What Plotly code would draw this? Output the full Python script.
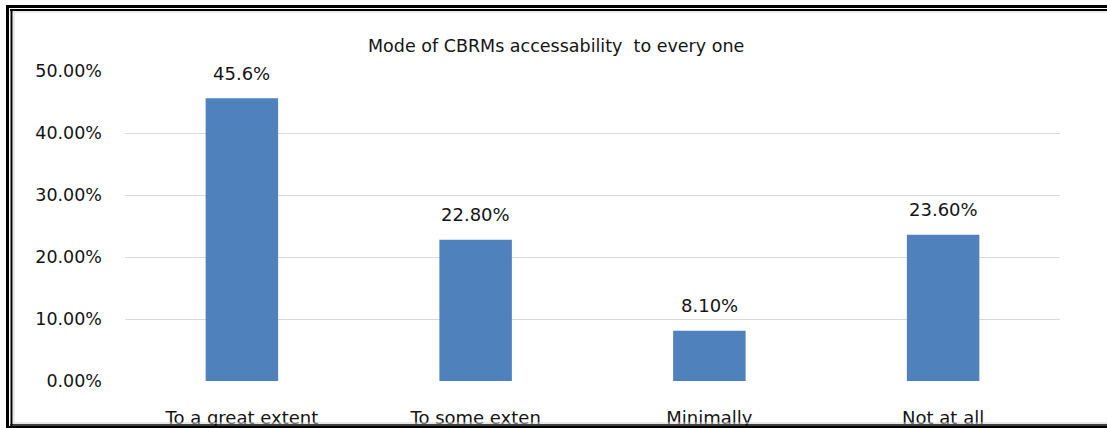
import plotly.graph_objects as go

# Survey responses: how accessible CBRMs are to everyone
categories = ["To a great extent", "To some exten", "Minimally", "Not at all"]
values = [45.6, 22.8, 8.1, 23.6]
value_labels = ["45.6%", "22.80%", "8.10%", "23.60%"]
y_ticks = [0, 10, 20, 30, 40, 50]
y_tick_labels = ["0.00%", "10.00%", "20.00%", "30.00%", "40.00%", "50.00%"]

W, H = 1107, 428
ML, MR, MT, MB = 125, 47, 71, 47
PW, PH = W - ML - MR, H - MT - MB

FONT = "'DejaVu Sans', sans-serif"
TEXT_COLOR = "#141414"
BAR_COLOR = "#4F81BD"


def px_x(x):
    return (x - ML) / PW


def px_y(y):
    return (H - MB - y) / PH


fig = go.Figure(
    go.Bar(
        x=categories,
        y=values,
        marker=dict(color=BAR_COLOR, line=dict(width=0)),
        width=0.31,
        hoverinfo="skip",
    )
)

# value labels above each bar
for cat, val, lab in zip(categories, values, value_labels):
    fig.add_annotation(
        x=cat, y=val, text=lab, showarrow=False,
        yanchor="middle", yshift=25,
        font=dict(family=FONT, size=18, color=TEXT_COLOR),
    )

# chart title
fig.add_annotation(
    x=px_x(556), y=px_y(46), xref="paper", yref="paper",
    text="Mode of CBRMs accessability&nbsp;&nbsp;to every one",
    showarrow=False, xanchor="center", yanchor="middle",
    font=dict(family=FONT, size=17.5, color=TEXT_COLOR),
)

# double frame around the chart
shapes = []


def hline(y, x0, x1, w, color="black"):
    shapes.append(dict(type="line", xref="paper", yref="paper",
                       x0=px_x(x0), x1=px_x(x1), y0=px_y(y), y1=px_y(y),
                       line=dict(color=color, width=w)))


def vline(x, y0, y1, w, color="black"):
    shapes.append(dict(type="line", xref="paper", yref="paper",
                       x0=px_x(x), x1=px_x(x), y0=px_y(y0), y1=px_y(y1),
                       line=dict(color=color, width=w)))


hline(6.5, 6, 1110, 3)
hline(10, 10, 1110, 2)
hline(12, 13, 1110, 1, "#d8d8d8")
vline(7.5, 5, 430, 3)
vline(11.5, 9, 426, 2)
vline(14, 12, 423, 1, "#d8d8d8")
hline(423, 13, 1110, 1, "#d0d0d0")
hline(425, 10, 1110, 1.5)
hline(427.5, 6, 1110, 3)

fig.update_layout(
    width=W, height=H,
    margin=dict(l=ML, r=MR, t=MT, b=MB, pad=0, autoexpand=False),
    paper_bgcolor="white", plot_bgcolor="white",
    showlegend=False,
    shapes=shapes,
    xaxis=dict(
        showgrid=False, zeroline=False, showline=False, ticks="",
        automargin=False,
        tickfont=dict(family=FONT, size=18, color=TEXT_COLOR),
        ticklabelstandoff=24,
    ),
    yaxis=dict(
        range=[0, 50], tickvals=y_ticks, ticktext=y_tick_labels,
        showgrid=True, gridcolor="#d9d9d9", gridwidth=1,
        zeroline=False, showline=False, ticks="",
        automargin=False,
        tickfont=dict(family=FONT, size=17.5, color=TEXT_COLOR),
        ticklabelstandoff=22,
    ),
)

fig.write_html("out.html")
